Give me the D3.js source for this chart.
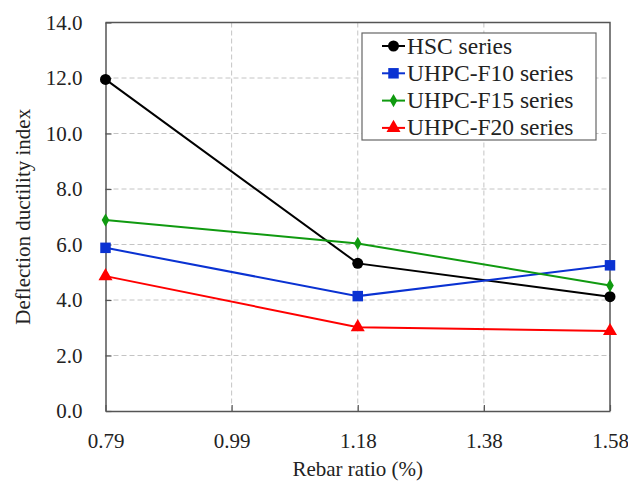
<!DOCTYPE html>
<html>
<head>
<meta charset="utf-8">
<script src="https://cdn.jsdelivr.net/npm/d3@7/dist/d3.min.js"></script>
<style>
  body { margin: 0; background: #fff; }
  svg text { font-family: "Liberation Serif", "Times New Roman", serif !important; fill: #222; }
</style>
</head>
<body>
<div id="chart-area"></div>
<script>
const xTicks = ["0.79", "0.99", "1.18", "1.38", "1.58"];
const yTicks = [0, 2, 4, 6, 8, 10, 12, 14];
const rebar = ["0.79", "1.18", "1.58"];

const hsc = [11.95, 5.32, 4.12];
const f10 = [5.88, 4.14, 5.25];
const f15 = [6.88, 6.04, 4.52];
const f20 = [4.86, 3.02, 2.88];

const seriesNames = ["HSC series", "UHPC-F10 series", "UHPC-F15 series", "UHPC-F20 series"];
const seriesColors = ["#000000", "#0a32d2", "#109a10", "#ff0000"];
const seriesSymbols = [d3.symbolCircle, d3.symbolSquare, d3.symbolDiamond, d3.symbolTriangle];
const symbolSizes = [95, 110, 50, 85];
const seriesValues = [hsc, f10, f15, f20];

const margin = { top: 22.5, right: 18, bottom: 72, left: 105.5 };
const W = 628, H = 483;
const width = W - margin.left - margin.right;
const height = H - margin.top - margin.bottom;
const serif = "'Liberation Serif', 'Times New Roman', serif";

const svg = d3.select("#chart-area")
  .append("svg")
  .attr("width", W)
  .attr("height", H)
  .attr("font-family", serif);

const g = svg.append("g")
  .attr("transform", `translate(${margin.left}, ${margin.top})`);

const x = d3.scalePoint().domain(xTicks).range([0, width]);
const y = d3.scaleLinear().domain([0, 14]).range([height, 0]);

// grid
g.append("g").selectAll("line")
  .data(yTicks.slice(1))
  .join("line")
  .attr("x1", 0).attr("x2", width)
  .attr("y1", d => y(d)).attr("y2", d => y(d))
  .attr("stroke", "#c4c4c4").attr("stroke-dasharray", "5,3").attr("stroke-width", 1);

g.append("g").selectAll("line")
  .data(xTicks.slice(1, -1))
  .join("line")
  .attr("x1", d => x(d)).attr("x2", d => x(d))
  .attr("y1", 0).attr("y2", height)
  .attr("stroke", "#c4c4c4").attr("stroke-dasharray", "5,3").attr("stroke-width", 1);

// axes
const xAxis = d3.axisBottom(x).tickSizeInner(-6).tickSizeOuter(0).tickPadding(22);
const yAxis = d3.axisLeft(y).tickValues(yTicks).tickFormat(d3.format(".1f"))
  .tickSizeInner(-6).tickSizeOuter(0).tickPadding(23);

const xAxisGroup = g.append("g").attr("transform", `translate(0,${height})`).call(xAxis);
const yAxisGroup = g.append("g").call(yAxis);

[xAxisGroup, yAxisGroup].forEach(a => {
  a.attr("font-family", serif).attr("font-size", 21);
  a.select(".domain").attr("stroke", "#555").attr("stroke-width", 1.5);
  a.selectAll(".tick line").attr("stroke", "#555").attr("stroke-width", 1.2);
  a.selectAll(".tick text").attr("fill", "#222");
});

// top and right border
g.append("path")
  .attr("d", `M0,0H${width}V${height}`)
  .attr("fill", "none").attr("stroke", "#555").attr("stroke-width", 1.5);

// series
const line = d3.line().x((d, i) => x(rebar[i])).y(d => y(d));

seriesValues.forEach((vals, k) => {
  g.append("path")
    .datum(vals)
    .attr("d", line)
    .attr("fill", "none")
    .attr("stroke", seriesColors[k])
    .attr("stroke-width", 2);

  g.selectAll(".pt" + k)
    .data(vals)
    .join("path")
    .attr("class", "pt" + k)
    .attr("transform", (d, i) => `translate(${x(rebar[i])},${y(d)})`)
    .attr("d", d3.symbol().type(seriesSymbols[k]).size(symbolSizes[k]))
    .attr("fill", seriesColors[k]);
});

// axis titles
svg.append("text")
  .attr("x", margin.left + width / 2)
  .attr("y", 476)
  .attr("text-anchor", "middle")
  .attr("font-size", 21)
  .text("Rebar ratio (%)");

svg.append("text")
  .attr("transform", `translate(30, ${margin.top + height / 2}) rotate(-90)`)
  .attr("text-anchor", "middle")
  .attr("font-size", 21)
  .text("Deflection ductility index");

// legend
const legend = svg.append("g").attr("transform", "translate(362,33)");
legend.append("rect")
  .attr("width", 234).attr("height", 107)
  .attr("fill", "#fff").attr("stroke", "#666").attr("stroke-width", 1.2);

seriesNames.forEach((name, k) => {
  const ly = 13 + k * 27.3;
  const row = legend.append("g").attr("transform", `translate(0,${ly})`);
  row.append("line")
    .attr("x1", 20).attr("x2", 43)
    .attr("stroke", seriesColors[k]).attr("stroke-width", 2);
  row.append("path")
    .attr("transform", "translate(31.5,0)")
    .attr("d", d3.symbol().type(seriesSymbols[k]).size(symbolSizes[k]))
    .attr("fill", seriesColors[k]);
  row.append("text")
    .attr("x", 45).attr("y", 7.5)
    .attr("font-size", 23.5)
    .text(name);
});
</script>
</body>
</html>
